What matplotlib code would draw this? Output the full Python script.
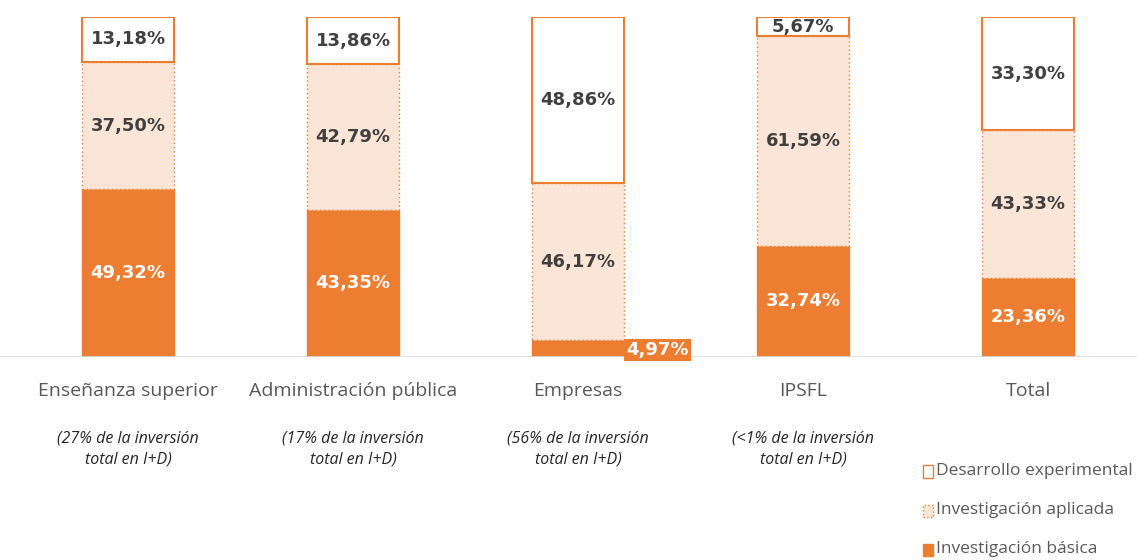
import matplotlib.pyplot as plt
from matplotlib.patches import Rectangle

categories = ['Enseñanza superior', 'Administración pública', 'Empresas', 'IPSFL', 'Total']
subtitles = ['(27% de la inversión\ntotal en I+D)', '(17% de la inversión\ntotal en I+D)',
             '(56% de la inversión\ntotal en I+D)', '(<1% de la inversión\ntotal en I+D)', '']
basica = [49.32, 43.35, 4.97, 32.74, 23.36]
aplicada = [37.50, 42.79, 46.17, 61.59, 43.33]
desarrollo = [13.18, 13.86, 48.86, 5.67, 33.30]

ORANGE = '#ED7D31'
LIGHT = '#FBE5D6'
DARK = '#404040'

plt.rcParams['font.family'] = ['Open Sans', 'DejaVu Sans']

fig = plt.figure(figsize=(11.37, 5.6), dpi=100)
ax = fig.add_axes([0, 0.3625, 1, 0.6071])
x = list(range(len(categories)))
w = 0.41


def fmt(v):
    return f'{v:.2f}%'.replace('.', ',')


ax.bar(x, basica, w, color=ORANGE, edgecolor=ORANGE, linewidth=1)
ax.bar(x, aplicada, w, bottom=basica, color=LIGHT, edgecolor=ORANGE,
       linewidth=1, linestyle=(0, (1, 2)))
bottom2 = [b + a for b, a in zip(basica, aplicada)]
ax.bar(x, desarrollo, w, bottom=bottom2, color='white', edgecolor=ORANGE, linewidth=1.5)

vfont = dict(family='DejaVu Sans', fontsize=13, fontweight='bold')
for i in x:
    if basica[i] > 10:
        ax.text(i, basica[i] / 2, fmt(basica[i]), ha='center', va='center',
                color='white', **vfont)
    else:
        ax.text(i + w / 2 + 0.01, basica[i] / 2 - 0.5, fmt(basica[i]),
                ha='left', va='center', color='white',
                bbox=dict(boxstyle='square,pad=0.12', facecolor=ORANGE, edgecolor='none'), **vfont)
    ax.text(i, basica[i] + aplicada[i] / 2, fmt(aplicada[i]), ha='center',
            va='center', color=DARK, **vfont)
    ax.text(i, bottom2[i] + desarrollo[i] / 2, fmt(desarrollo[i]),
            ha='center', va='center', color=DARK, **vfont)
    ax.text(i, -7.3, categories[i], ha='center', va='top', color='#595959', fontsize=14)
    ax.text(i, -21.5, subtitles[i], ha='center', va='top', color='#262626', fontsize=11.5,
            style='italic', linespacing=1.45)

ax.set_xlim(-0.569, 4.484)
ax.set_ylim(0, 100)
ax.axhline(0, color='#D9D9D9', linewidth=1.2)
ax.axis('off')

# legend
legend_items = [('Desarrollo experimental', 'white', '-'),
                ('Investigación aplicada', LIGHT, ':'),
                ('Investigación básica', ORANGE, '-')]
for k, (lab, fc, ls) in enumerate(legend_items):
    yy = 0.159 - k * 0.07
    fig.patches.append(Rectangle((0.8118, yy - 0.012), 0.0088, 0.022, transform=fig.transFigure,
                                 facecolor=fc, edgecolor=ORANGE, linestyle=ls, linewidth=1))
    fig.text(0.8235, yy, lab, ha='left', va='center', color='#595959', fontsize=12.5)

fig.savefig('out.png')
